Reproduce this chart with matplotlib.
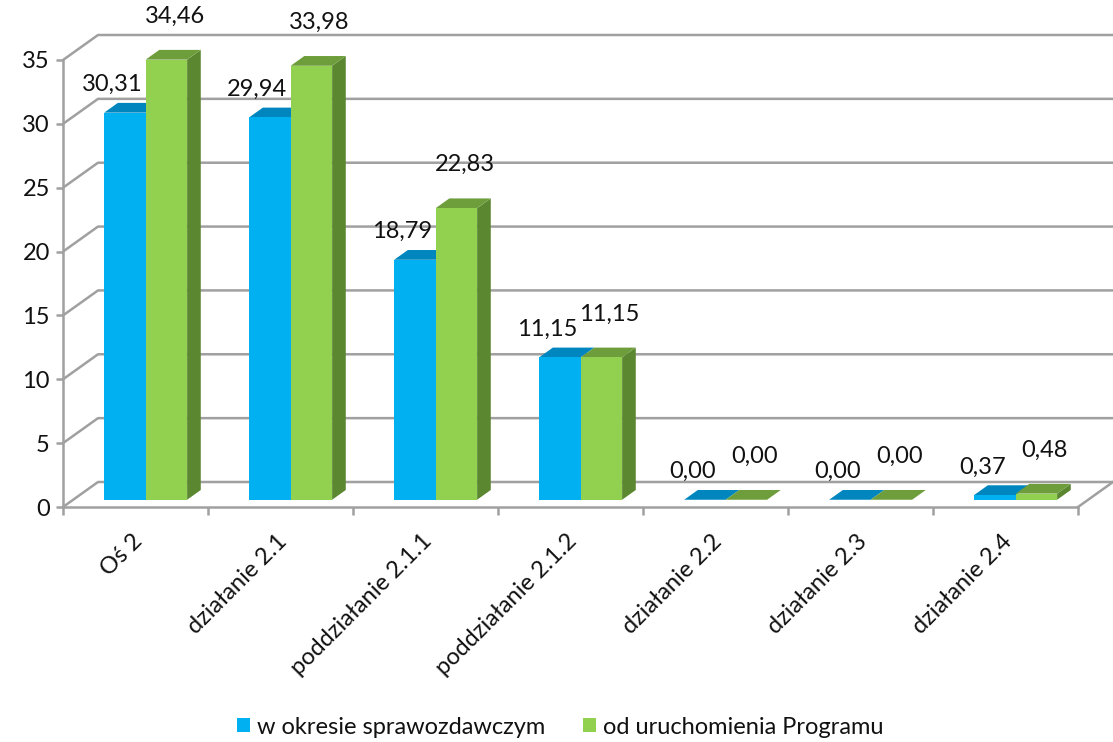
import numpy as np
import matplotlib
matplotlib.use("Agg")
import matplotlib.pyplot as plt
from matplotlib.patches import Polygon, Patch

plt.rcParams["font.family"] = ["Lato", "DejaVu Sans"]

categories = ["Oś 2", "działanie 2.1", "poddziałanie 2.1.1", "poddziałanie 2.1.2",
              "działanie 2.2", "działanie 2.3", "działanie 2.4"]
okres = [30.31, 29.94, 18.79, 11.15, 0.00, 0.00, 0.37]
program = [34.46, 33.98, 22.83, 11.15, 0.00, 0.00, 0.48]
series_names = ["w okresie sprawozdawczym", "od uruchomienia Programu"]
yticks = [0, 5, 10, 15, 20, 25, 30, 35]

# colours: front, top, side
BLUE = ("#00B0F0", "#0086BF", "#0078AA")
GREEN = ("#92D050", "#6E9E3C", "#5B8731")
GRID = "#A0A0A0"
TXT = "#111111"

W, H = 1113, 742
fig = plt.figure(figsize=(W / 100, H / 100), dpi=100)
ax = fig.add_axes([63 / W, (H - 507) / H, (1078 - 63) / W, (507 - 60) / H])
n = len(categories)
ax.set_xlim(0, n)
ax.set_ylim(0, 35)

# oblique depth of the floor/back wall, in data units
DX, DY = 35 / 145, 25 / 12.77
F0, F1 = 0.29, 0.68          # bar front / back as a fraction of the depth
bw = 0.286                   # width of one bar

# back wall gridlines with the diagonal on the left side wall
for v in yticks:
    ax.plot([0, DX, n + DX], [v, v + DY, v + DY], color=GRID, lw=1.8,
            clip_on=False, zorder=1, solid_capstyle="butt")
ax.plot([n, n + DX], [0, DY], color=GRID, lw=1.8, clip_on=False, zorder=1)


def bar3d(x0, x1, h, cols):
    ox, oy = F0 * DX, F0 * DY
    px, py = (F1 - F0) * DX, (F1 - F0) * DY
    a, b = x0 + ox, x1 + ox
    top = h + oy
    front = Polygon([(a, oy), (b, oy), (b, top), (a, top)], closed=True,
                    fc=cols[0], ec="none", zorder=3, clip_on=False)
    lid = Polygon([(a, top), (b, top), (b + px, top + py), (a + px, top + py)],
                  closed=True, fc=cols[1], ec="none", zorder=3, clip_on=False)
    side = Polygon([(b, oy), (b + px, oy + py), (b + px, top + py), (b, top)],
                   closed=True, fc=cols[2], ec="none", zorder=3, clip_on=False)
    return side, lid, front


def lbl(v):
    return f"{v:.2f}".replace(".", ",")


for i in range(n):
    c = i + 0.5
    side, lid, front = bar3d(c - bw, c, okres[i], BLUE)
    ax.add_patch(lid)
    ax.add_patch(front)
    for p in bar3d(c, c + bw, program[i], GREEN):
        ax.add_patch(p)
    d = c + F0 * DX
    ax.text(d - 0.23, okres[i] + F0 * DY + 2.2, lbl(okres[i]),
            ha="center", va="center", fontsize=17, color=TXT, zorder=5)
    ax.text(d + 0.2, program[i] + F0 * DY + 3.4, lbl(program[i]),
            ha="center", va="center", fontsize=17, color=TXT, zorder=5)

# axes styling
for s in ["top", "right"]:
    ax.spines[s].set_visible(False)
for s in ["left", "bottom"]:
    ax.spines[s].set_color(GRID)
    ax.spines[s].set_linewidth(1.8)
ax.set_yticks(yticks)
ax.set_yticklabels([str(v) for v in yticks], fontsize=17, color=TXT)
ax.tick_params(axis="y", length=5, width=1.8, color=GRID, pad=4.5)
ax.set_xticks(np.arange(n + 1))
ax.set_xticklabels([])
ax.tick_params(axis="x", which="major", length=6, width=1.8, color=GRID)
ax.set_xticks(np.arange(n) + 0.47, minor=True)
ax.set_xticklabels(categories, minor=True, rotation=45, ha="right", va="top",
                   rotation_mode="anchor", fontsize=17, color=TXT)
ax.tick_params(axis="x", which="minor", length=0, pad=17)
ax.patch.set_alpha(0)

handles = [Patch(fc=BLUE[0], ec="none"), Patch(fc=GREEN[0], ec="none")]
fig.legend(handles, series_names, loc="center", bbox_to_anchor=(560 / W, 15 / H),
           ncol=2, frameon=False, fontsize=17, handlelength=0.55, handleheight=0.55,
           handletextpad=0.3, columnspacing=1.6, labelcolor=TXT)

fig.savefig("out.png", dpi=100)
